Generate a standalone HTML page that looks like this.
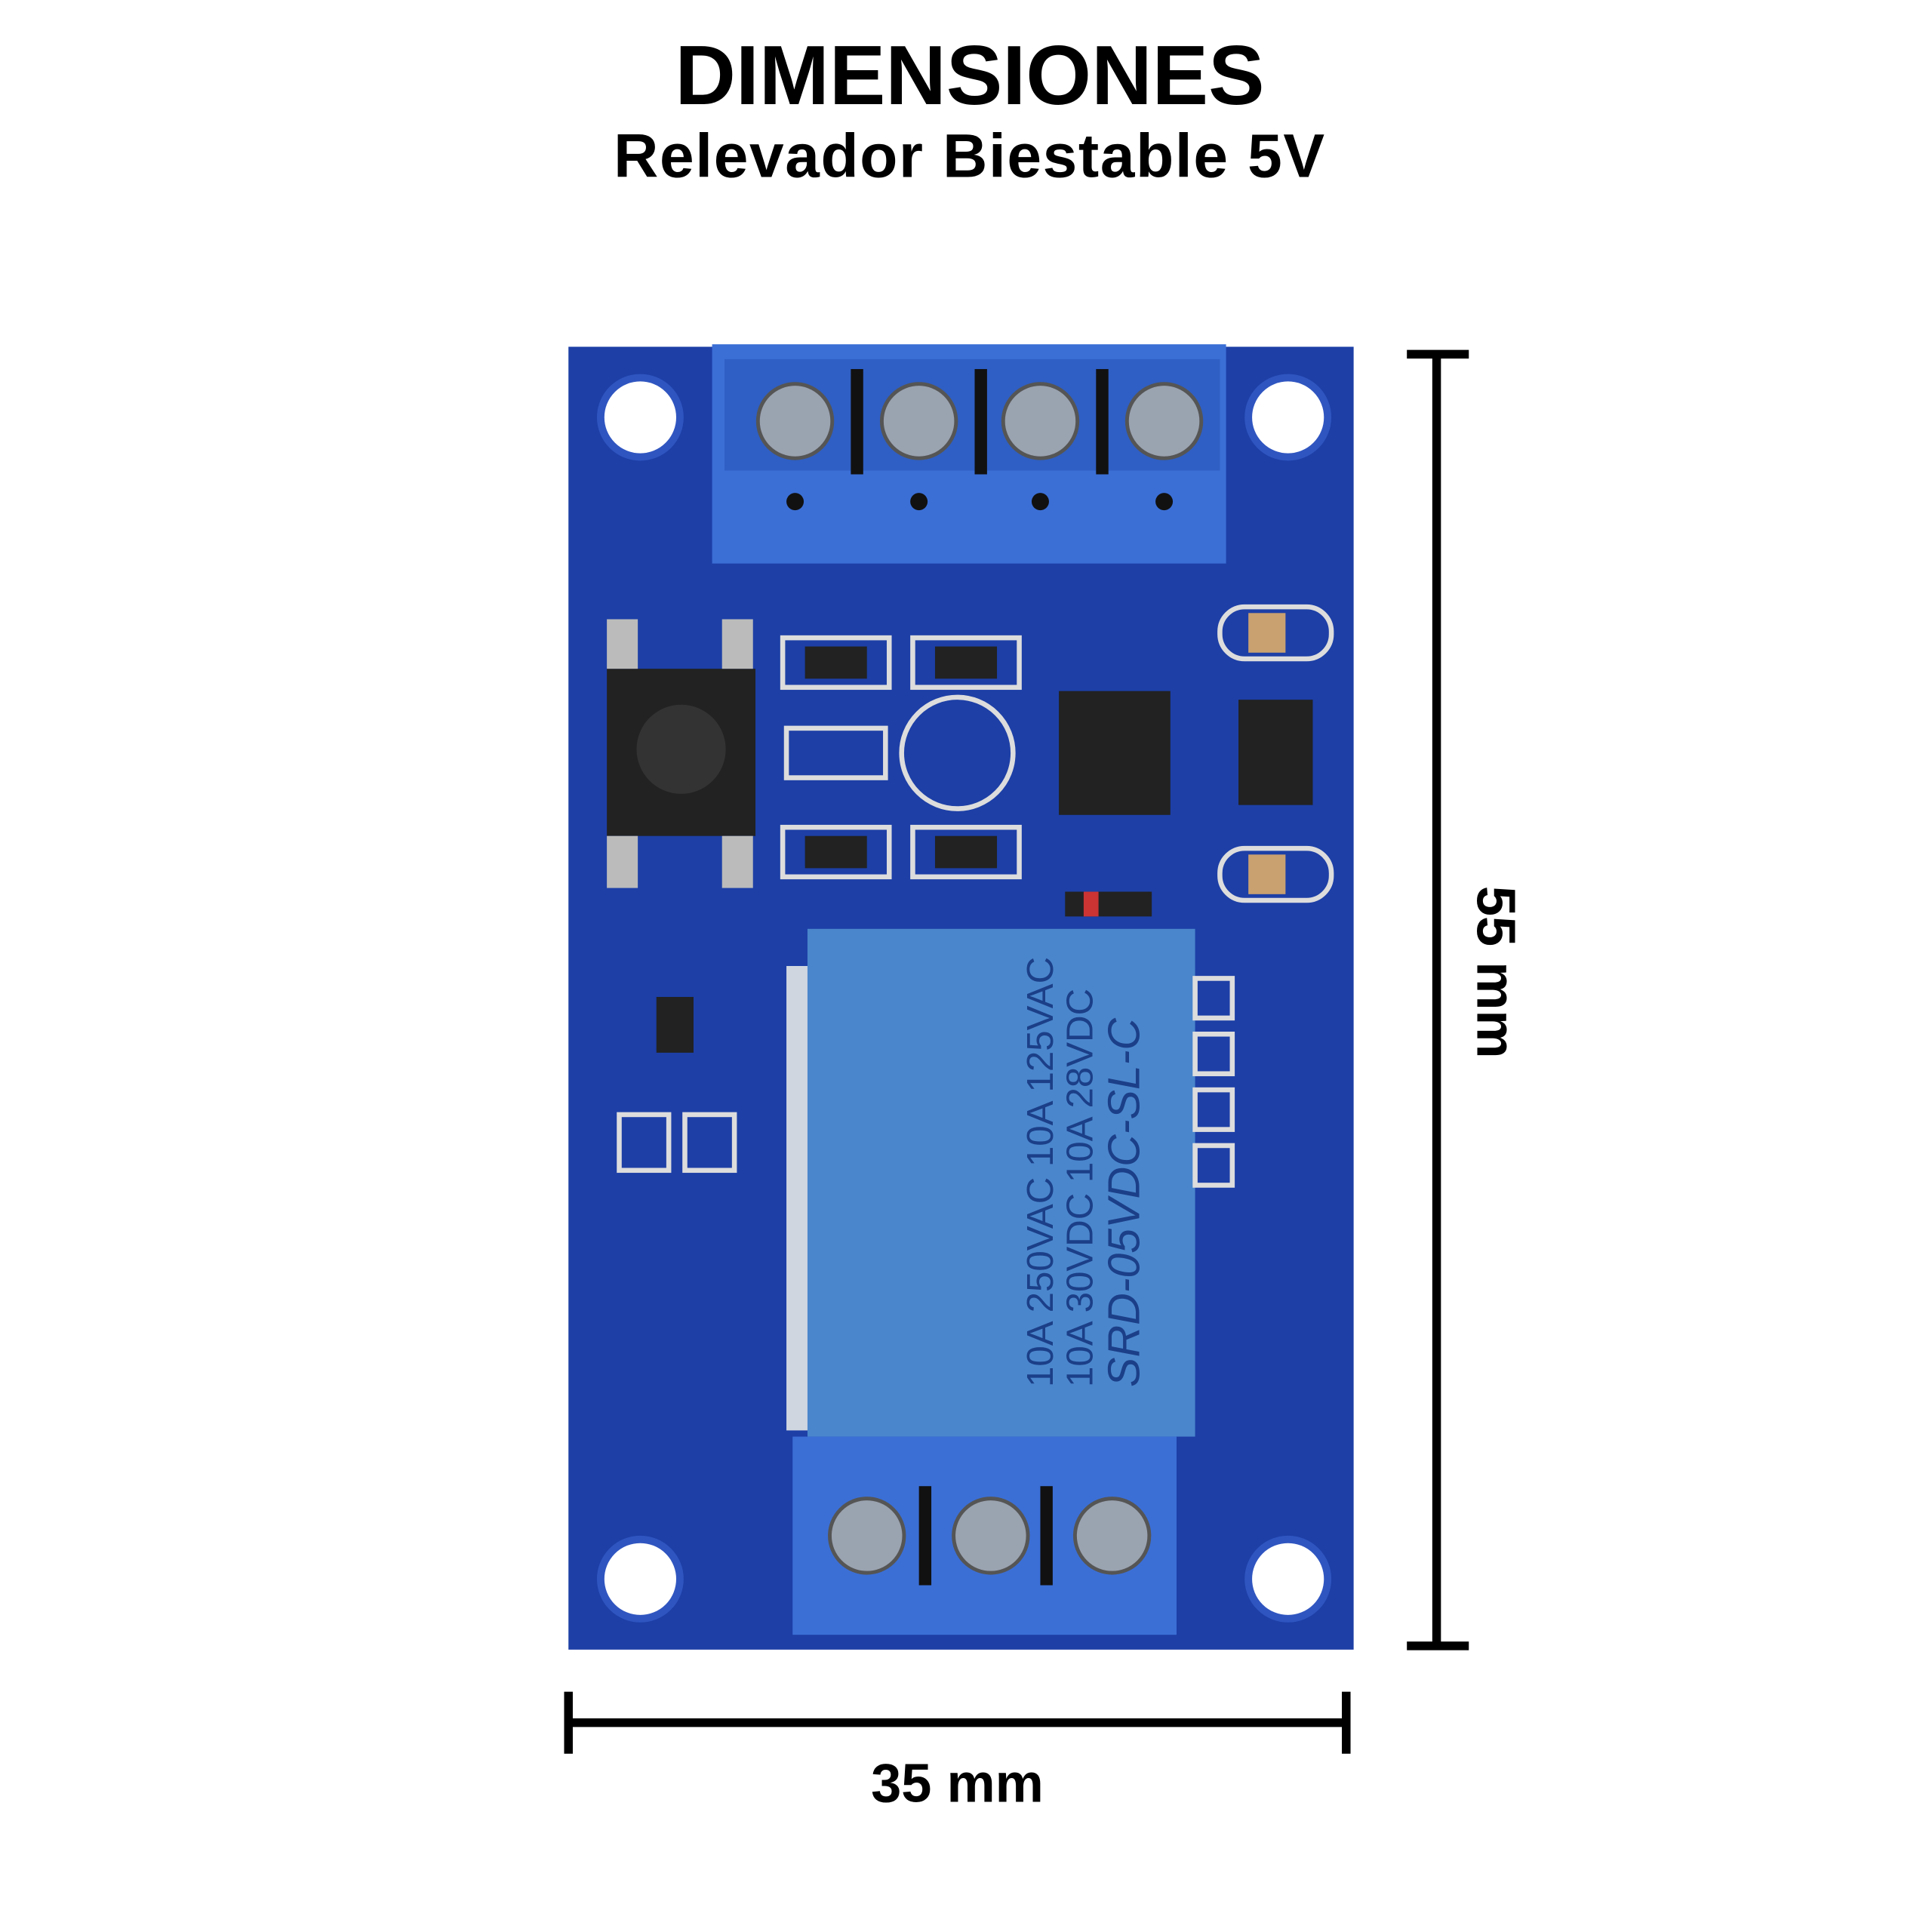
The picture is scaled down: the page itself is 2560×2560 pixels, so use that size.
<!DOCTYPE html>
<html><head><meta charset="utf-8"><style>
html,body{margin:0;padding:0;background:#fff;}
svg{display:block}
</style></head><body>
<svg width="2560" height="2560" viewBox="0 0 1560 1560" xmlns="http://www.w3.org/2000/svg">
<rect width="1560" height="1560" fill="#fff"/>
<text x="783" y="84" text-anchor="middle" font-family="Liberation Sans, sans-serif" font-weight="bold" font-size="68" fill="#000">DIMENSIONES</text>
<text x="783" y="143" text-anchor="middle" font-family="Liberation Sans, sans-serif" font-weight="bold" font-size="50" letter-spacing="1" fill="#000">Relevador Biestable 5V</text>

<rect x="459" y="280" width="634" height="1052" fill="#1d3fa6"/>
<g fill="#fff" stroke="#2f55c0" stroke-width="6">
<circle cx="517" cy="337" r="32"/><circle cx="1040" cy="337" r="32"/>
<circle cx="517" cy="1275" r="32"/><circle cx="1040" cy="1275" r="32"/>
</g>
<rect x="575" y="278" width="415" height="177" fill="#3b6fd6"/>
<rect x="585" y="290" width="400" height="90" fill="#2f5fc4"/>
<g fill="#9aa3b0" stroke="#555" stroke-width="3">
<circle cx="642" cy="340" r="30"/><circle cx="742" cy="340" r="30"/><circle cx="840" cy="340" r="30"/><circle cx="940" cy="340" r="30"/>
</g>
<g fill="#111"><rect x="687" y="298" width="10" height="85"/><rect x="787" y="298" width="10" height="85"/><rect x="885" y="298" width="10" height="85"/>
<circle cx="642" cy="405" r="7"/><circle cx="742" cy="405" r="7"/><circle cx="840" cy="405" r="7"/><circle cx="940" cy="405" r="7"/></g>
<rect x="490" y="540" width="120" height="135" fill="#222"/>
<circle cx="550" cy="605" r="36" fill="#333"/>
<g fill="#bbb"><rect x="490" y="500" width="25" height="40"/><rect x="583" y="500" width="25" height="40"/><rect x="490" y="675" width="25" height="42"/><rect x="583" y="675" width="25" height="42"/></g>
<g fill="none" stroke="#ddd" stroke-width="4">
<rect x="632" y="515" width="86" height="40"/><rect x="737" y="515" width="86" height="40"/>
<rect x="635" y="588" width="80" height="40"/><rect x="632" y="668" width="86" height="40"/><rect x="737" y="668" width="86" height="40"/>
<circle cx="773" cy="608" r="45"/>
<rect x="500" y="900" width="40" height="45"/><rect x="553" y="900" width="40" height="45"/>
<rect x="985" y="490" width="90" height="42" rx="20"/><rect x="985" y="685" width="90" height="42" rx="20"/>
</g>
<g fill="#222"><rect x="650" y="522" width="50" height="26"/><rect x="755" y="522" width="50" height="26"/><rect x="650" y="675" width="50" height="26"/><rect x="755" y="675" width="50" height="26"/>
<rect x="855" y="558" width="90" height="100"/><rect x="1000" y="565" width="60" height="85"/><rect x="530" y="805" width="30" height="45"/>
<rect x="1008" y="495" width="30" height="32" fill="#c9a070"/><rect x="1008" y="690" width="30" height="32" fill="#c9a070"/></g>
<rect x="860" y="720" width="70" height="20" fill="#222"/><rect x="875" y="720" width="12" height="20" fill="#c33"/>
<rect x="635" y="780" width="20" height="375" fill="#cfd6e0"/>
<rect x="652" y="750" width="313" height="410" fill="#4a86cc"/>
<g fill="none" stroke="#ddd" stroke-width="4"><rect x="965" y="790" width="30" height="32"/><rect x="965" y="835" width="30" height="32"/><rect x="965" y="880" width="30" height="32"/><rect x="965" y="925" width="30" height="32"/></g>
<g font-family="Liberation Sans, sans-serif" font-size="30" fill="#1b3f88" transform="rotate(-90 880 960)">
<text x="720" y="930">10A 250VAC 10A 125VAC</text>
<text x="720" y="962">10A 30VDC 10A 28VDC</text>
<text x="720" y="1000" font-style="italic" font-size="36">SRD-05VDC-SL-C</text>
</g>
<rect x="640" y="1160" width="310" height="160" fill="#3b6fd6"/>
<g fill="#9aa3b0" stroke="#555" stroke-width="3"><circle cx="700" cy="1240" r="30"/><circle cx="800" cy="1240" r="30"/><circle cx="898" cy="1240" r="30"/></g>
<g fill="#111"><rect x="742" y="1200" width="10" height="80"/><rect x="840" y="1200" width="10" height="80"/></g>

<g stroke="#000" stroke-width="7">
<line x1="1160" y1="285" x2="1160" y2="1330"/>
<line x1="1136" y1="286" x2="1186" y2="286"/><line x1="1136" y1="1329" x2="1186" y2="1329"/>
<line x1="458" y1="1391" x2="1088" y2="1391"/>
<line x1="459" y1="1366" x2="459" y2="1416"/><line x1="1087" y1="1366" x2="1087" y2="1416"/>
</g>
<text x="0" y="0" transform="translate(1193 785) rotate(90)" text-anchor="middle" font-family="Liberation Sans, sans-serif" font-weight="bold" font-size="44" fill="#000">55 mm</text>
<text x="773" y="1455" text-anchor="middle" font-family="Liberation Sans, sans-serif" font-weight="bold" font-size="44" fill="#000">35 mm</text>
</svg>
</body></html>
